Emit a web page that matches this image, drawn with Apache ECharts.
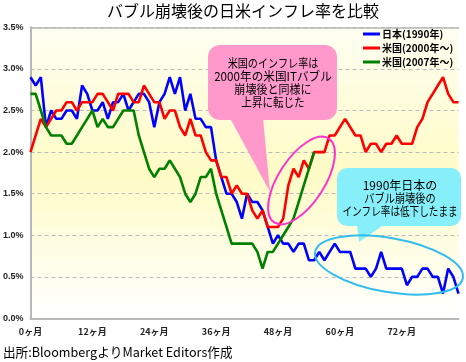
<!DOCTYPE html>
<html><head><meta charset="utf-8">
<script src="https://cdn.jsdelivr.net/npm/echarts@6/dist/echarts.min.js"></script>
<style>html,body{margin:0;padding:0;background:#fff}#c{width:466px;height:362px}</style>
</head><body><div id="c"></div>
<script>
// categories: months after the bubble burst
const months = Array.from({length: 84}, (_, i) => i + 'ヶ月');
const seriesNames = ['日本(1990年)', '米国(2000年～)', '米国(2007年～)'];
// inflation rate (%)
const japan1990 = [
  2.9, 2.8, 2.9, 2.3, 2.5, 2.4, 2.4, 2.5, 2.5, 2.4,
  2.8, 2.7, 2.5, 2.5, 2.6, 2.4, 2.6, 2.6, 2.7, 2.5,
  2.6, 2.7, 2.7, 2.6, 2.3, 2.6, 2.7, 2.9, 2.7, 2.9,
  2.5, 2.7, 2.4, 2.4, 2.3, 2.3, 1.9, 1.7, 1.5, 1.5,
  1.4, 1.2, 1.5, 1.4, 1.4, 1.3, 1.1, 0.9, 1.0, 0.9,
  0.9, 0.8, 0.9, 0.9, 0.7, 0.7, 0.8, 0.7, 0.8, 0.9,
  0.8, 0.8, 0.8, 0.6, 0.6, 0.6, 0.5, 0.6, 0.8, 0.6,
  0.6, 0.6, 0.6, 0.4, 0.5, 0.5, 0.6, 0.6, 0.5, 0.5,
  0.3, 0.6, 0.5, 0.3
];
const us2000 = [
  2.0, 2.2, 2.4, 2.3, 2.4, 2.5, 2.5, 2.6, 2.6, 2.5,
  2.6, 2.6, 2.6, 2.7, 2.7, 2.6, 2.5, 2.7, 2.7, 2.7,
  2.6, 2.6, 2.8, 2.7, 2.6, 2.6, 2.4, 2.5, 2.5, 2.3,
  2.2, 2.4, 2.2, 2.2, 2.0, 1.9, 1.9, 1.7, 1.7, 1.5,
  1.6, 1.5, 1.5, 1.3, 1.2, 1.3, 1.1, 1.1, 1.1, 1.2,
  1.6, 1.8, 1.7, 1.9, 1.8, 2.0, 2.0, 2.0, 2.2, 2.2,
  2.3, 2.4, 2.3, 2.2, 2.2, 2.0, 2.1, 2.1, 2.0, 2.1,
  2.1, 2.2, 2.1, 2.1, 2.1, 2.3, 2.4, 2.6, 2.7, 2.8,
  2.9, 2.7, 2.6, 2.6
];
const us2007 = [
  2.7, 2.7, 2.5, 2.3, 2.2, 2.2, 2.2, 2.1, 2.1, 2.2,
  2.3, 2.4, 2.5, 2.3, 2.4, 2.3, 2.3, 2.4, 2.5, 2.5,
  2.5, 2.2, 2.0, 1.8, 1.7, 1.8, 1.8, 1.9, 1.8, 1.7,
  1.5, 1.4, 1.5, 1.7, 1.7, 1.8, 1.5, 1.3, 1.1, 0.9,
  0.9, 0.9, 0.9, 0.9, 0.8, 0.6, 0.8, 0.8, 0.9, 1.0,
  1.1, 1.2, 1.4, 1.6, 1.8, 2.0
];
const titleText = 'バブル崩壊後の日米インフレ率を比較';
const sourceText = '出所:BloombergよりMarket Editors作成';
const pinkNote = ['米国のインフレ率は', '2000年の米国ITバブル', '崩壊後と同様に', '上昇に転じた'];
const cyanNote = ['1990年日本の', 'バブル崩壊後の', 'インフレ率は低下したまま'];

const JP = '"Noto Sans CJK JP", sans-serif';
const chart = echarts.init(document.getElementById('c'), null, {renderer: 'canvas'});

const pinkScale = [0.84, 0.97, 0.92, 0.88];
const cyanScale = [1.0, 0.85, 0.8];
const graphics = [
  // pink callout
  {type: 'polygon', z: 100, shape: {points: [[230, 118], [263, 118], [270, 192]]}, style: {fill: '#FF99CC'}},
  {type: 'rect', z: 100, shape: {x: 208, y: 45, width: 129, height: 75, r: 12}, style: {fill: '#FF99CC'}},
  // pink ellipse
  {type: 'ellipse', z: 101, x: 301.5, y: 180.5, rotation: 57 * Math.PI / 180,
   shape: {cx: 0, cy: 0, rx: 50, ry: 23}, style: {fill: 'none', stroke: '#FF33CC', lineWidth: 2}},
  // cyan callout
  {type: 'polygon', z: 100, shape: {points: [[357, 224], [385, 224], [359, 242]]}, style: {fill: '#86EFFA'}},
  {type: 'rect', z: 100, shape: {x: 337, y: 168, width: 124, height: 58, r: 10}, style: {fill: '#86EFFA'}},
  // cyan ellipse
  {type: 'ellipse', z: 101, x: 389, y: 265, rotation: -10 * Math.PI / 180,
   shape: {cx: 0, cy: 0, rx: 75, ry: 27}, style: {fill: 'none', stroke: '#33BBEE', lineWidth: 2}},
  // source
  {type: 'text', z: 100, x: 3, y: 352, scaleX: 0.97, style: {text: sourceText, font: '13px ' + JP, fill: '#000', textVerticalAlign: 'middle'}}
];
pinkNote.forEach((t, i) => graphics.push({
  type: 'text', z: 102, x: 273, y: 63 + i * 13.3, scaleX: pinkScale[i],
  style: {text: t, font: '12px ' + JP, fill: '#000', textAlign: 'center', textVerticalAlign: 'middle'}
}));
cyanNote.forEach((t, i) => graphics.push({
  type: 'text', z: 102, x: 400, y: 185 + i * 13.3, scaleX: cyanScale[i],
  style: {text: t, font: '12px ' + JP, fill: '#000', textAlign: 'center', textVerticalAlign: 'middle'}
}));

const axisGray = '#B8B8B8';
chart.setOption({
  animation: false,
  backgroundColor: '#fff',
  title: {text: titleText, left: 107, top: 3, padding: 0,
    textStyle: {fontFamily: JP, fontSize: 16, fontWeight: 'normal', color: '#000'}},
  legend: {
    orient: 'vertical', left: 363, top: 28, padding: 0, itemGap: 2,
    icon: 'rect', itemWidth: 17, itemHeight: 3,
    textStyle: {fontFamily: JP, fontSize: 10, fontWeight: 'bold', color: '#000', lineHeight: 12, padding: [0, 0, 0, -3]},
    data: seriesNames
  },
  grid: {
    left: 28.5, right: 7.5, top: 27.3, bottom: 43.5, show: true, borderWidth: 0,
    backgroundColor: new echarts.graphic.LinearGradient(0, 0, 0, 1, [
      {offset: 0, color: '#FFFFF2'},
      {offset: 0.5, color: '#FFFBC6'},
      {offset: 1, color: '#FFFFFF'}
    ])
  },
  xAxis: [{
    type: 'category', data: months, boundaryGap: false,
    axisLine: {lineStyle: {color: axisGray, width: 2}},
    axisTick: {show: false},
    axisLabel: {interval: 11, margin: 9, fontFamily: JP, fontSize: 9, fontWeight: 'bold', color: '#222'},
    splitLine: {show: false}
  }, {
    type: 'category', data: months, boundaryGap: false, position: 'top',
    axisLine: {lineStyle: {color: axisGray, width: 1.5}},
    axisTick: {show: false}, axisLabel: {show: false}, splitLine: {show: false}
  }],
  yAxis: {
    type: 'value', min: 0, max: 3.5, interval: 0.5,
    axisLine: {show: true, lineStyle: {color: axisGray, width: 2}},
    axisTick: {show: false},
    axisLabel: {margin: 7, fontFamily: '"Liberation Sans", Arial, sans-serif', fontSize: 9, fontWeight: 'bold', color: '#222',
      formatter: v => v.toFixed(1) + '%'},
    splitLine: {lineStyle: {color: '#BBBBBB', width: 1, type: [4, 3]}}
  },
  series: [
    {name: seriesNames[0], type: 'line', data: japan1990, symbol: 'none', lineStyle: {width: 2.6, color: '#0000FF'}, itemStyle: {color: '#0000FF'}},
    {name: seriesNames[1], type: 'line', data: us2000, symbol: 'none', lineStyle: {width: 2.6, color: '#FF0000'}, itemStyle: {color: '#FF0000'}},
    {name: seriesNames[2], type: 'line', data: us2007, symbol: 'none', lineStyle: {width: 2.6, color: '#008000'}, itemStyle: {color: '#008000'}}
  ],
  graphic: graphics
});
</script></body></html>
